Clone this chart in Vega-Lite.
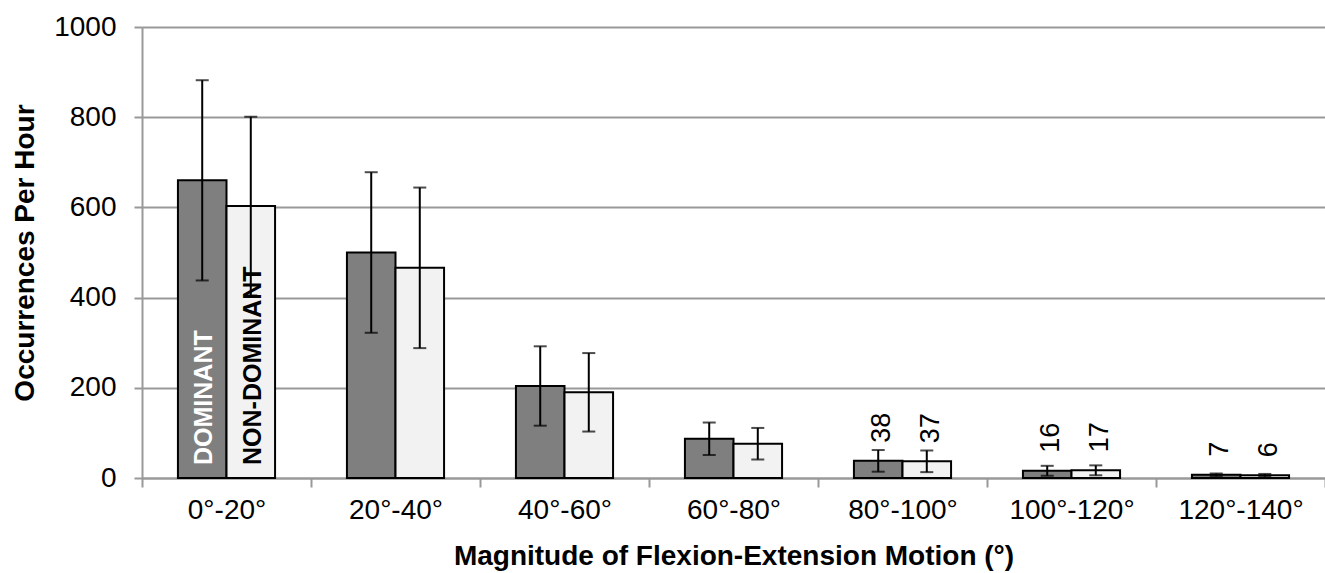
{
  "$schema": "https://vega.github.io/schema/vega-lite/v6.json",
  "width": 1183,
  "height": 451,
  "autosize": {"type": "none"},
  "padding": {"left": 142, "top": 27, "right": 0, "bottom": 95},
  "background": "white",
  "config": {
    "font": "Liberation Sans",
    "view": {"stroke": null},
    "axis": {"labelFont": "Liberation Sans", "titleFont": "Liberation Sans", "labelColor": "black", "titleColor": "black"}
  },
  "data": {
    "values": [
      {"range": "0°-20°", "hand": "DOMINANT", "value": 660, "lo": 438, "hi": 882, "label": null},
      {"range": "0°-20°", "hand": "NON-DOMINANT", "value": 603, "lo": 405, "hi": 801, "label": null},
      {"range": "20°-40°", "hand": "DOMINANT", "value": 500, "lo": 322, "hi": 678, "label": null},
      {"range": "20°-40°", "hand": "NON-DOMINANT", "value": 466, "lo": 288, "hi": 644, "label": null},
      {"range": "40°-60°", "hand": "DOMINANT", "value": 204, "lo": 116, "hi": 292, "label": null},
      {"range": "40°-60°", "hand": "NON-DOMINANT", "value": 190, "lo": 103, "hi": 277, "label": null},
      {"range": "60°-80°", "hand": "DOMINANT", "value": 87, "lo": 51, "hi": 123, "label": null},
      {"range": "60°-80°", "hand": "NON-DOMINANT", "value": 76, "lo": 41, "hi": 111, "label": null},
      {"range": "80°-100°", "hand": "DOMINANT", "value": 38, "lo": 14, "hi": 62, "label": "38"},
      {"range": "80°-100°", "hand": "NON-DOMINANT", "value": 37, "lo": 13, "hi": 61, "label": "37"},
      {"range": "100°-120°", "hand": "DOMINANT", "value": 16, "lo": 5, "hi": 27, "label": "16"},
      {"range": "100°-120°", "hand": "NON-DOMINANT", "value": 17, "lo": 6, "hi": 28, "label": "17"},
      {"range": "120°-140°", "hand": "DOMINANT", "value": 7, "lo": 4, "hi": 10, "label": "7"},
      {"range": "120°-140°", "hand": "NON-DOMINANT", "value": 6, "lo": 3, "hi": 9, "label": "6"}
    ]
  },
  "encoding": {
    "x": {
      "field": "range", "type": "nominal", "sort": null,
      "scale": {"paddingInner": 0, "paddingOuter": 0},
      "axis": {
        "title": "Magnitude of Flexion-Extension Motion (°)",
        "titleFontSize": 28, "titleFontWeight": "bold", "titlePadding": 18,
        "labelFontSize": 28, "labelAngle": 0, "labelPadding": 9,
        "tickBand": "extent", "tickSize": 9, "tickColor": "#999999", "tickWidth": 2,
        "domainColor": "#999999", "domainWidth": 2, "grid": false
      }
    },
    "xOffset": {
      "field": "hand", "type": "nominal", "sort": ["DOMINANT", "NON-DOMINANT"],
      "scale": {"paddingOuter": 0.74, "paddingInner": 0}
    }
  },
  "layer": [
    {
      "mark": {"type": "bar", "stroke": "black", "strokeWidth": 2},
      "encoding": {
        "y": {
          "field": "value", "type": "quantitative",
          "scale": {"domain": [0, 1000], "nice": false},
          "axis": {
            "title": "Occurrences Per Hour", "titleFontSize": 28, "titleFontWeight": "bold", "titlePadding": 14,
            "labelFontSize": 28, "labelPadding": 18, "values": [0, 200, 400, 600, 800, 1000], "format": "d",
            "tickSize": 8, "tickColor": "#999999", "tickWidth": 2,
            "domainColor": "#999999", "domainWidth": 2,
            "grid": true, "gridColor": "#999999", "gridWidth": 2
          }
        },
        "fill": {
          "field": "hand", "type": "nominal",
          "scale": {"domain": ["DOMINANT", "NON-DOMINANT"], "range": ["#7f7f7f", "#f2f2f2"]},
          "legend": null
        }
      }
    },
    {
      "mark": {"type": "rule", "color": "black", "strokeWidth": 2},
      "encoding": {
        "y": {"field": "lo", "type": "quantitative"},
        "y2": {"field": "hi"}
      }
    },
    {
      "mark": {"type": "tick", "color": "black", "thickness": 2, "size": 13},
      "encoding": {"y": {"field": "lo", "type": "quantitative"}}
    },
    {
      "mark": {"type": "tick", "color": "black", "thickness": 2, "size": 13},
      "encoding": {"y": {"field": "hi", "type": "quantitative"}}
    },
    {
      "transform": [{"filter": "datum.label != null"}],
      "mark": {"type": "text", "angle": 270, "align": "left", "baseline": "middle", "dx": 18, "dy": 4, "fontSize": 27, "color": "black"},
      "encoding": {
        "y": {"field": "value", "type": "quantitative"},
        "text": {"field": "label"}
      }
    },
    {
      "transform": [{"filter": "datum.range == '0°-20°'"}],
      "mark": {"type": "text", "angle": 270, "align": "left", "baseline": "middle", "dx": 13, "dy": 2, "fontSize": 25, "fontWeight": "bold"},
      "encoding": {
        "y": {"datum": 0, "type": "quantitative"},
        "text": {"field": "hand"},
        "color": {
          "field": "hand", "type": "nominal",
          "scale": {"domain": ["DOMINANT", "NON-DOMINANT"], "range": ["white", "black"]},
          "legend": null
        }
      }
    }
  ]
}
